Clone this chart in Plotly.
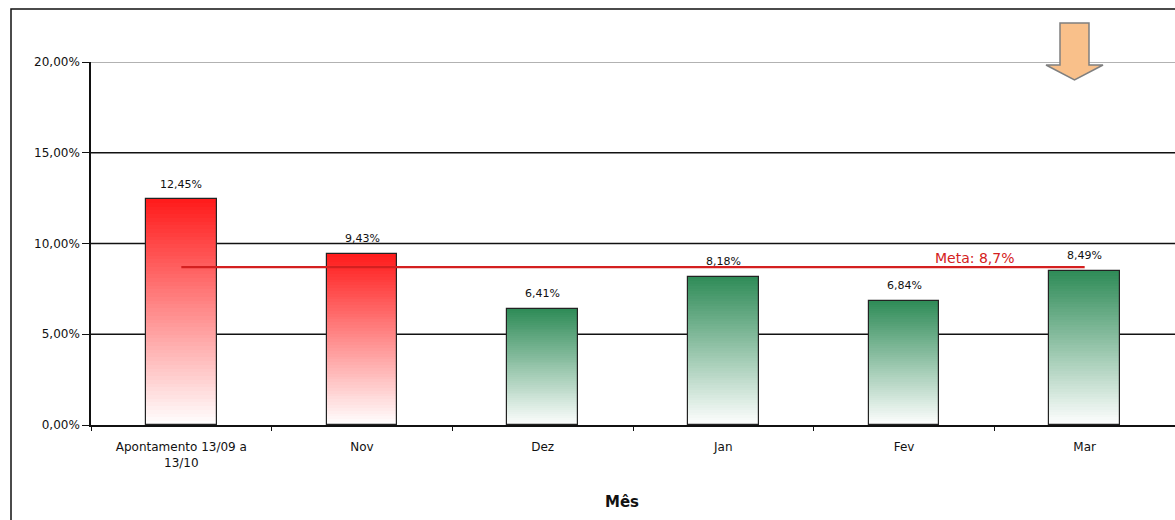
import plotly.graph_objects as go

categories = ["Apontamento 13/09 a<br>13/10", "Nov", "Dez", "Jan", "Fev", "Mar"]
values = [12.45, 9.43, 6.41, 8.18, 6.84, 8.49]
labels = ["12,45%", "9,43%", "6,41%", "8,18%", "6,84%", "8,49%"]
top_colors = ["#ff1a1a", "#ff1a1a", "#2e8b57", "#2e8b57", "#2e8b57", "#2e8b57"]
meta_value = 8.7
meta_label = "Meta: 8,7%"
y_ticks = [0, 5, 10, 15, 20]
y_ticktext = ["0,00%", "5,00%", "10,00%", "15,00%", "20,00%"]
x_title = "Mês"

W, H = 1175, 520
L, R, T, B = 91, 0, 62, 95
PW, PH = W - L - R, H - T - B
FONT = "DejaVu Sans, Verdana, sans-serif"


def px_x(px):
    return (px - L) / PW


def px_y(py):
    return (H - B - py) / PH


def hex_rgb(h):
    h = h.lstrip("#")
    return tuple(int(h[i:i + 2], 16) for i in (0, 2, 4))


def mix(c, t):
    r, g, b = hex_rgb(c)
    return "rgb(%d,%d,%d)" % (round(255 + (r - 255) * t), round(255 + (g - 255) * t), round(255 + (b - 255) * t))


fig = go.Figure()
N = 60
bar_w = 0.39
for k in range(N):
    t = (k + 0.5) / N
    fig.add_trace(go.Bar(
        x=categories,
        y=[v / N for v in values],
        base=[v * k / N for v in values],
        width=bar_w,
        marker=dict(color=[mix(c, t) for c in top_colors], line=dict(width=0)),
        hoverinfo="skip",
        showlegend=False,
    ))

# outline
fig.add_trace(go.Bar(
    x=categories, y=values, width=bar_w,
    marker=dict(color="rgba(0,0,0,0)", line=dict(color="#222", width=1.2)),
    showlegend=False,
))

# meta line
fig.add_trace(go.Scatter(
    x=[categories[0], categories[-1]], y=[meta_value, meta_value],
    mode="lines", line=dict(color="#d42020", width=2.2), showlegend=False,
))

for c, v, lab in zip(categories, values, labels):
    fig.add_annotation(x=c, y=v, text=lab, showarrow=False, yshift=15,
                       font=dict(family=FONT, size=11, color="#111"))

fig.add_annotation(x=categories[-1], y=meta_value, text=meta_label, showarrow=False,
                   xshift=-110, yshift=9,
                   font=dict(family=FONT, size=14, color="#d42020"))

fig.add_annotation(xref="paper", yref="paper", x=px_x(622), y=px_y(502), text="<b>" + x_title + "</b>",
                   xanchor="center", yanchor="middle",
                   showarrow=False, font=dict(family=FONT, size=15, color="#111"))

shapes = []
# gridlines
for yv, col in [(5, "#111"), (10, "#111"), (15, "#111"), (20, "#999")]:
    shapes.append(dict(type="line", xref="paper", yref="y", x0=0, x1=1, y0=yv, y1=yv,
                       line=dict(color=col, width=1.3), layer="below"))
# outer frame
shapes.append(dict(type="rect", xref="paper", yref="paper",
                   x0=px_x(11), x1=px_x(1180), y0=px_y(9), y1=px_y(525),
                   line=dict(color="#111", width=1.5), layer="below"))
# arrow
pts = [(1060, 23), (1089, 23), (1089, 65), (1103, 65), (1074.5, 80), (1046, 65), (1060, 65)]
path = "M " + " L ".join("%.5f,%.5f" % (px_x(a), px_y(b)) for a, b in pts) + " Z"
shapes.append(dict(type="path", xref="paper", yref="paper", path=path,
                   fillcolor="#f9c08a", line=dict(color="#7f7f7f", width=1.5)))

fig.update_layout(
    width=W, height=H,
    margin=dict(l=L, r=R, t=T, b=B),
    paper_bgcolor="white", plot_bgcolor="white",
    barmode="overlay", bargap=0,
    shapes=shapes,
    font=dict(family=FONT, size=12, color="#111"),
    xaxis=dict(type="category", showgrid=False, showline=True, linecolor="#111", linewidth=1.5,
               ticks="outside", tickson="boundaries", ticklen=4, tickcolor="#111",
               ticklabelstandoff=10,
               tickfont=dict(size=12), range=[-0.5, 5.5]),
    yaxis=dict(range=[0, 20], tickvals=y_ticks, ticktext=y_ticktext, showgrid=False,
               showline=True, linecolor="#111", linewidth=1.5, ticks="outside", ticklen=7,
               tickcolor="#111", tickfont=dict(size=12), zeroline=False),
)

fig.write_html("out.html", config={"displayModeBar": False},
               post_script="document.body.style.margin='0';document.body.style.overflow='hidden';")
